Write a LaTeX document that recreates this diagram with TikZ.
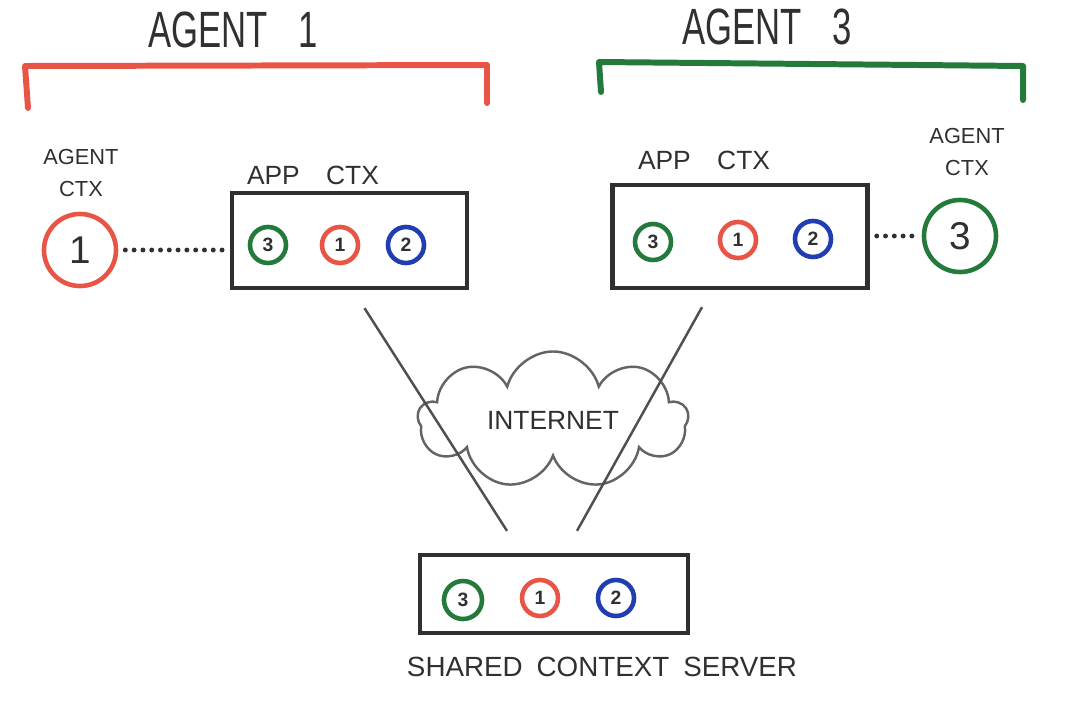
\documentclass[tikz,border=0pt]{standalone}
\usepackage{fontspec}
\setmainfont{Liberation Sans}
\usetikzlibrary{positioning,calc,shapes.symbols}

\definecolor{mred}{RGB}{232,84,70}
\definecolor{mgreen}{RGB}{36,122,58}
\definecolor{mblue}{RGB}{32,62,178}
\definecolor{mink}{RGB}{48,48,48}

\begin{document}
\begin{tikzpicture}[x=0.01cm,y=-0.01cm,
  every node/.style={text=mink,font=\fontsize{7}{8}\selectfont},
  title/.style={font=\fontsize{14.5}{16}\selectfont},
  ctxbox/.style={draw=mink,line width=1.2pt,inner sep=0pt},
  ctxdot/.style={draw=#1,circle,line width=1.3pt,minimum size=0.36cm,inner sep=0pt,font=\fontsize{5.5}{6}\selectfont\bfseries},
  agentdot/.style={draw=#1,circle,line width=1.3pt,minimum size=0.72cm,inner sep=0pt,font=\fontsize{11}{12}\selectfont},
  bracket/.style={draw=#1,line width=1.7pt,line cap=round,line join=round},
  link/.style={draw=mink!85,line width=0.7pt},
  dotline/.style={draw=mink,line width=1.4pt,line cap=round,dash pattern=on 0pt off 2.5pt}]
  \useasboundingbox (0,0) rectangle (1088,718);

  % Agent 1
  \node[title] (titleA) at (233,30) {\scalebox{0.68}[1]{AGENT\hspace{0.9em}1}};
  \draw[bracket=mred] (28,108) -- (25,66) -- (487,65) -- (487,103);
  \node[align=center,font=\fontsize{6.2}{9}\selectfont] (ctxlabA) at (81,173) {AGENT\\CTX};
  \node[agentdot=mred] (agA) at (80,250) {1};
  \node[font=\fontsize{7.5}{8}\selectfont] (applabA) at (313,175) {APP\hspace{1em}CTX};
  \node[ctxbox,minimum width=2.35cm,minimum height=0.95cm] (appA) at (349.5,240.5) {};
  \node[ctxdot=mgreen] (appA3) at (268,245) {3};
  \node[ctxdot=mred] (appA1) at (340,245) {1};
  \node[ctxdot=mblue] (appA2) at (406,245) {2};
  \draw[dotline,shorten <=2pt,shorten >=2pt] (agA) -- (agA -| appA.west);

  % Agent 3
  \node[title] (titleC) at (767,27) {\scalebox{0.68}[1]{AGENT\hspace{0.9em}3}};
  \draw[bracket=mgreen] (601,92) -- (599,62) -- (1023,66) -- (1023,100);
  \node[align=center,font=\fontsize{6.2}{9}\selectfont] (ctxlabC) at (967,152) {AGENT\\CTX};
  \node[agentdot=mgreen] (agC) at (960,236) {3};
  \node[font=\fontsize{7.5}{8}\selectfont] (applabC) at (704,160) {APP\hspace{1em}CTX};
  \node[ctxbox,minimum width=2.55cm,minimum height=1.03cm] (appC) at (740,236.5) {};
  \node[ctxdot=mgreen] (appC3) at (653,242) {3};
  \node[ctxdot=mred] (appC1) at (738,240) {1};
  \node[ctxdot=mblue] (appC2) at (813,239) {2};
  \draw[dotline,shorten <=2pt,shorten >=1pt] (appC.east |- agC) -- (agC);

  % internet
  \node[cloud,draw=mink!75,line width=0.7pt,cloud puffs=9,aspect=2.6,
        minimum width=2.7cm,minimum height=1.02cm,font=\fontsize{7.5}{8}\selectfont] (net) at (553,420) {INTERNET};

  % shared context server
  \node[ctxbox,minimum width=2.68cm,minimum height=0.78cm] (server) at (554,594) {};
  \node[ctxdot=mgreen,minimum size=0.38cm] (srv3) at (463,600) {3};
  \node[ctxdot=mred] (srv1) at (540,598) {1};
  \node[ctxdot=mblue] (srv2) at (616,598) {2};
  \node[font=\fontsize{7.9}{9}\selectfont] (srvlab) at (602,667) {SHARED\enspace CONTEXT\enspace SERVER};

  \draw[link] ($(appA.south)+(15,18)$) -- ($(server.north)+(-47,-22)$);
  \draw[link] ($(appC.south)+(-38,17)$) -- ($(server.north)+(23,-22)$);
\end{tikzpicture}
\end{document}
